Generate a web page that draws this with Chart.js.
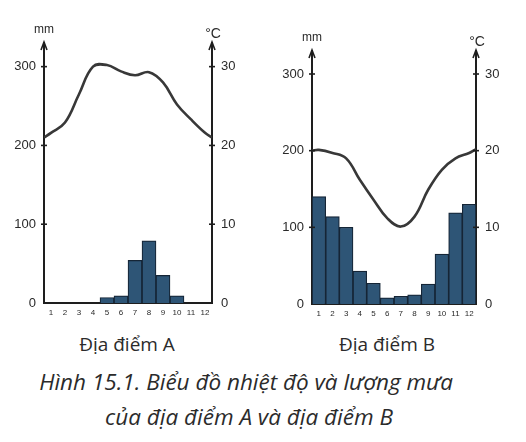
<!DOCTYPE html>
<html>
<head>
<meta charset="utf-8">
<script src="https://cdn.jsdelivr.net/npm/chart.js@4.4.1/dist/chart.umd.min.js"></script>
<style>
body { margin: 0; background: #fff; }
#wrap { position: relative; width: 526px; height: 442px; overflow: hidden; }
.box { position: absolute; top: 0; width: 263px; height: 330px; }
#boxA { left: 0; }
#boxB { left: 263px; }
.cap { position: absolute; font-family: "Open Sans", sans-serif; color: #2b2b2b; white-space: nowrap; transform: translateX(-50%); line-height: 1.3; }
.place { font-size: 19px; top: 332px; }
.fig { font-size: 22.5px; font-style: italic; }
</style>
</head>
<body>
<div id="wrap">
  <div class="box" id="boxA"><canvas id="chartA"></canvas></div>
  <div class="box" id="boxB"><canvas id="chartB"></canvas></div>
  <div class="cap place" style="left:127px">Địa điểm A</div>
  <div class="cap place" style="left:387px">Địa điểm B</div>
  <div class="cap fig" style="left:246px; top:367px">Hình 15.1. Biểu đồ nhiệt độ và lượng mưa</div>
  <div class="cap fig" style="left:249px; top:402px">của địa điểm A và địa điểm B</div>
</div>
<script>
const months = [1, 2, 3, 4, 5, 6, 7, 8, 9, 10, 11, 12];
const rainTicks = [0, 100, 200, 300];
const tempTicks = [0, 10, 20, 30];

// rainfall (mm) per month
const rainA = [0, 0, 0, 0, 7, 9, 54, 79, 35, 9, 0, 0];
const rainB = [140, 114, 100, 43, 27, 8, 10, 12, 26, 65, 119, 130];

// temperature curve (°C), read at the axis edges and at each month
const tempPos = [0.5, 1, 2, 3, 4, 5, 6, 7, 8, 9, 10, 11, 12, 12.5];
const tempA = [21.0, 21.6, 22.9, 26.5, 30.0, 30.2, 29.4, 28.9, 29.3, 28.0, 25.2, 23.3, 21.6, 21.0];
const tempB = [20.0, 20.1, 19.7, 19.0, 16.2, 13.6, 11.2, 10.1, 11.4, 14.9, 17.5, 19.0, 19.7, 20.2];

const axisColor = '#1e1e1e';
const textColor = '#2a2a2a';

const axisDecor = {
  id: 'axisDecor',
  afterDraw(chart) {
    const c = chart.ctx;
    const a = chart.chartArea;
    const y = chart.scales.y;
    const y1 = chart.scales.y1;
    c.save();
    c.strokeStyle = axisColor;
    c.lineWidth = 1.6;
    // arrows on top of both vertical axes
    [a.left, a.right].forEach(x => {
      c.beginPath();
      c.moveTo(x - 3, a.top + 7);
      c.lineTo(x, a.top - 1);
      c.lineTo(x + 3, a.top + 7);
      c.stroke();
    });
    // small crosses on the ticks
    rainTicks.slice(1).forEach(v => {
      const py = y.getPixelForValue(v);
      c.beginPath();
      c.moveTo(a.left - 3, py);
      c.lineTo(a.left + 3, py);
      c.stroke();
    });
    tempTicks.slice(1).forEach(v => {
      const py = y1.getPixelForValue(v);
      c.beginPath();
      c.moveTo(a.right - 3, py);
      c.lineTo(a.right + 3, py);
      c.stroke();
    });
    c.fillStyle = textColor;
    c.textAlign = 'center';
    c.textBaseline = 'middle';
    c.font = '12px "Liberation Sans", sans-serif';
    c.fillText('mm', a.left, a.top - 13);
    c.font = '14px "Liberation Sans", sans-serif';
    c.fillText('°C', a.right + 1, a.top - 9);
    c.restore();
  }
};

function makeChart(id, rain, temp, pad) {
  new Chart(document.getElementById(id), {
    data: {
      datasets: [
        {
          type: 'line',
          data: tempPos.map((x, i) => ({ x: x, y: temp[i] })),
          yAxisID: 'y1',
          borderColor: '#383838',
          borderWidth: 2.6,
          pointRadius: 0,
          tension: 0.4,
          fill: false
        },
        {
          type: 'bar',
          data: months.map((m, i) => ({ x: m, y: rain[i] })),
          yAxisID: 'y',
          backgroundColor: '#2e5576',
          borderColor: '#152536',
          borderWidth: 1.2,
          barPercentage: 1,
          categoryPercentage: 1
        }
      ]
    },
    options: {
      responsive: true,
      maintainAspectRatio: false,
      animation: false,
      layout: { padding: { top: pad.top } },
      plugins: { legend: { display: false }, tooltip: { enabled: false } },
      scales: {
        x: {
          type: 'linear',
          min: 0.5,
          max: 12.5,
          offset: false,
          grid: { display: false, drawTicks: false },
          border: { display: true, color: axisColor, width: 2 },
          afterBuildTicks: s => { s.ticks = months.map(v => ({ value: v })); },
          afterFit: s => { s.height = pad.bottom; },
          ticks: {
            padding: 5,
            color: textColor,
            font: { size: 8, family: '"Liberation Sans", sans-serif' },
            maxRotation: 0,
            autoSkip: false
          }
        },
        y: {
          position: 'left',
          min: 0,
          max: 330,
          grid: { display: false, drawTicks: false },
          border: { display: true, color: axisColor, width: 2 },
          afterBuildTicks: s => { s.ticks = rainTicks.map(v => ({ value: v })); },
          afterFit: s => { s.width = pad.left; },
          ticks: {
            padding: 8,
            color: textColor,
            font: { size: 13, family: '"Liberation Sans", sans-serif' }
          }
        },
        y1: {
          position: 'right',
          min: 0,
          max: 33,
          grid: { display: false, drawTicks: false },
          border: { display: true, color: axisColor, width: 2 },
          afterBuildTicks: s => { s.ticks = tempTicks.map(v => ({ value: v })); },
          afterFit: s => { s.width = pad.right; },
          ticks: {
            padding: 9,
            color: textColor,
            font: { size: 13, family: '"Liberation Sans", sans-serif' }
          }
        }
      }
    },
    plugins: [axisDecor]
  });
}

makeChart('chartA', rainA, tempA, { top: 43, bottom: 27, left: 44, right: 51 });
makeChart('chartB', rainB, tempB, { top: 51, bottom: 26, left: 49, right: 50 });
</script>
</body>
</html>
